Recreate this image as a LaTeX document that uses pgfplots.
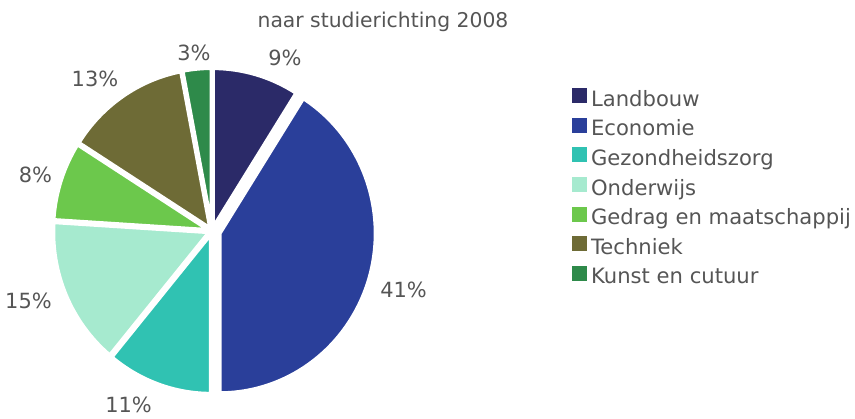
\documentclass[border=0pt]{standalone}
\usepackage{pgfplots}
\pgfplotsset{compat=1.18}
\usepackage{fontspec}
\setmainfont{DejaVu Sans}
\definecolor{cLand}{HTML}{2B2A68}
\definecolor{cEco}{HTML}{2A3F9A}
\definecolor{cGez}{HTML}{30C2B2}
\definecolor{cOnd}{HTML}{A6EACF}
\definecolor{cGed}{HTML}{6CC84C}
\definecolor{cTec}{HTML}{6E6B36}
\definecolor{cKun}{HTML}{2E8A4A}
\definecolor{txt}{HTML}{555555}
% #1 start (%), #2 share (%), #3 colour, #4 explode offset (bp)
\newcommand{\slice}[4]{%
  \fill[#3, draw=white, line width=4bp, line join=round,
        shift={({90-3.6*(#1+#2/2)}:#4bp)}]
    (axis cs:212,187) -- ++({90-3.6*#1}:156bp and 160bp)
    arc[start angle={90-3.6*#1}, end angle={90-3.6*(#1+#2)},
        x radius=156bp, y radius=160bp] -- cycle;}
\begin{document}
\begin{tikzpicture}
\begin{axis}[name=ax, x=1bp, y=1bp, xmin=0, xmax=855, ymin=0, ymax=418,
  hide axis, clip=false,
  legend cell align=left,
  legend style={at={(axis cs:569,332)}, anchor=north west, draw=none, fill=none,
    font=\fontsize{21.2}{25}\selectfont, text=txt, row sep=4.4bp,
    nodes={inner sep=2bp, text height=15bp, text depth=5bp}},
]
% data: shares in percent (Landbouw, Economie, Gezondheidszorg, Onderwijs, Gedrag en maatschappij, Techniek, Kunst en cutuur)
\slice{0}{9}{cLand}{3}
\slice{9}{41}{cEco}{8}
\slice{50}{11}{cGez}{3}
\slice{61}{15}{cOnd}{3}
\slice{76}{8}{cGed}{3}
\slice{84}{13}{cTec}{3}
\slice{97}{3}{cKun}{3}
\addlegendimage{legend image code/.code={\fill[cLand] (0bp,-1bp) rectangle (14bp,13bp); \path (16.5bp,0bp);}}
\addlegendentry{Landbouw}
\addlegendimage{legend image code/.code={\fill[cEco] (0bp,-1bp) rectangle (14bp,13bp); \path (16.5bp,0bp);}}
\addlegendentry{Economie}
\addlegendimage{legend image code/.code={\fill[cGez] (0bp,-1bp) rectangle (14bp,13bp); \path (16.5bp,0bp);}}
\addlegendentry{Gezondheidszorg}
\addlegendimage{legend image code/.code={\fill[cOnd] (0bp,-1bp) rectangle (14bp,13bp); \path (16.5bp,0bp);}}
\addlegendentry{Onderwijs}
\addlegendimage{legend image code/.code={\fill[cGed] (0bp,-1bp) rectangle (14bp,13bp); \path (16.5bp,0bp);}}
\addlegendentry{Gedrag en maatschappij}
\addlegendimage{legend image code/.code={\fill[cTec] (0bp,-1bp) rectangle (14bp,13bp); \path (16.5bp,0bp);}}
\addlegendentry{Techniek}
\addlegendimage{legend image code/.code={\fill[cKun] (0bp,-1bp) rectangle (14bp,13bp); \path (16.5bp,0bp);}}
\addlegendentry{Kunst en cutuur}
\begin{scope}[every node/.style={text=txt, font=\fontsize{21}{25}\selectfont}]
\node[anchor=base, font=\fontsize{20.4}{24}\selectfont] at (axis cs:383,391) {naar studierichting 2008};
\node at (axis cs:285,360) {9\%};
\node at (axis cs:403.5,128) {41\%};
\node at (axis cs:128.5,13) {11\%};
\node at (axis cs:28.5,117) {15\%};
\node at (axis cs:35.5,243) {8\%};
\node at (axis cs:95,339) {13\%};
\node at (axis cs:194,365) {3\%};
\end{scope}
\end{axis}
\pgfresetboundingbox
\useasboundingbox (ax.south west) rectangle (ax.north east);
\end{tikzpicture}
\end{document}
